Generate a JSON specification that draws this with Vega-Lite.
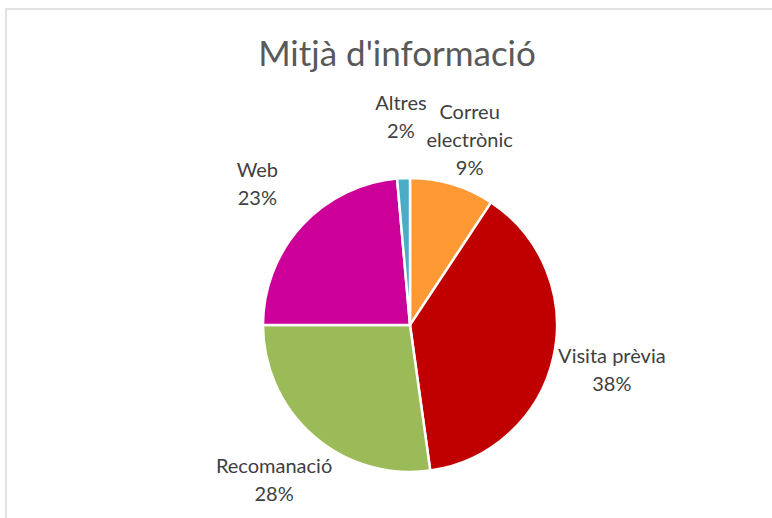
{
  "$schema": "https://vega.github.io/schema/vega-lite/v6.json",
  "autosize": {"type": "none"},
  "padding": {"left": 6, "top": 9, "right": 0, "bottom": 0},
  "width": 808,
  "height": 632,
  "background": "white",
  "view": {"stroke": "#d9d9d9", "strokeWidth": 1.5, "fill": "white"},
  "title": {
    "text": "Mitjà d'informació",
    "font": "Lato",
    "fontSize": 35,
    "fontWeight": "normal",
    "color": "#595959",
    "anchor": "middle",
    "frame": "group",
    "orient": "none",
    "baseline": "alphabetic",
    "dy": 57,
    "dx": 391
  },
  "data": {
    "values": [
      {"ord": 1, "category": "Correu electrònic", "value": 9.3, "label": "Correu\nelectrònic\n9%"},
      {"ord": 2, "category": "Visita prèvia", "value": 38.5, "label": "Visita prèvia\n38%"},
      {"ord": 3, "category": "Recomanació", "value": 27.2, "label": "Recomanació\n28%"},
      {"ord": 4, "category": "Web", "value": 23.6, "label": "Web\n23%"},
      {"ord": 5, "category": "Altres", "value": 1.4, "label": "Altres\n2%"}
    ]
  },
  "encoding": {
    "theta": {"field": "value", "type": "quantitative", "stack": true},
    "order": {"field": "ord", "type": "quantitative"}
  },
  "layer": [
    {
      "mark": {"type": "arc", "outerRadius": 147, "stroke": "white", "strokeWidth": 2.5},
      "encoding": {
        "color": {
          "field": "category",
          "type": "nominal",
          "legend": null,
          "scale": {
            "domain": ["Correu electrònic", "Visita prèvia", "Recomanació", "Web", "Altres"],
            "range": ["#FF9933", "#C00000", "#9BBB59", "#CC0099", "#4BACC6"]
          }
        }
      }
    },
    {
      "mark": {"type": "text", "radius": 207, "dy": -14, "font": "Lato", "fontSize": 20, "color": "#404040", "lineBreak": "\n", "lineHeight": 28, "align": "center", "baseline": "middle"},
      "encoding": {
        "text": {"field": "label", "type": "nominal"}
      }
    }
  ]
}
